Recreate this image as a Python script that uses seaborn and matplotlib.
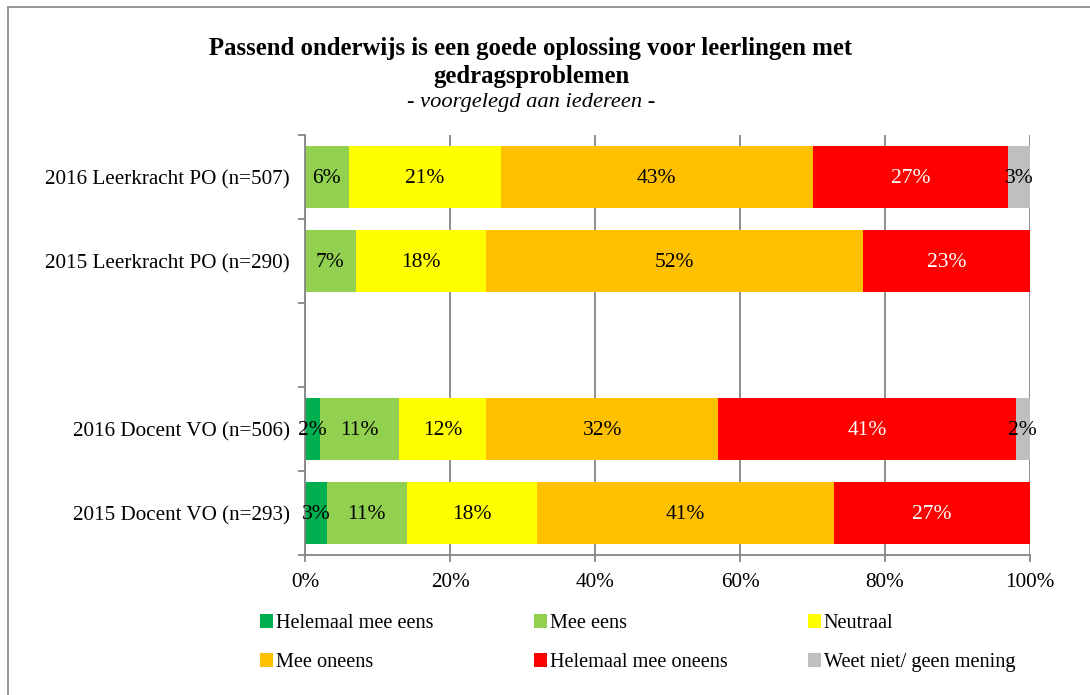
import matplotlib
matplotlib.use("Agg")
from matplotlib import pyplot as plt
from matplotlib.patches import Patch, Rectangle
from matplotlib.ticker import FixedLocator
import seaborn as sns
import pandas as pd

# chart data
groups = ["2016 Leerkracht PO (n=507)", "2015 Leerkracht PO (n=290)", " ",
          "2016 Docent VO (n=506)", "2015 Docent VO (n=293)"]
answers = ["Helemaal mee eens", "Mee eens", "Neutraal", "Mee oneens",
           "Helemaal mee oneens", "Weet niet/ geen mening"]
helemaal_eens = [0, 0, 0, 2, 3]
mee_eens = [6, 7, 0, 11, 11]
neutraal = [21, 18, 0, 12, 18]
mee_oneens = [43, 52, 0, 32, 41]
helemaal_oneens = [27, 23, 0, 41, 27]
weet_niet = [3, 0, 0, 2, 0]
x_ticks = [0, 20, 40, 60, 80, 100]

colors = ["#00B050", "#92D050", "#FFFF00", "#FFC000", "#FF0000", "#BFBFBF"]
label_colors = ["black", "black", "black", "black", "white", "black"]

sns.set_style("white")
plt.rcParams["font.family"] = ["Liberation Serif", "DejaVu Serif"]
plt.rcParams["text.color"] = "black"

series = [helemaal_eens, mee_eens, neutraal, mee_oneens, helemaal_oneens, weet_niet]
rows = []
for answer, vals in zip(answers, series):
    for g, v in zip(groups, vals):
        rows.append({"group": g, "answer": answer, "value": v})
df = pd.DataFrame(rows)
df["answer"] = pd.Categorical(df["answer"], categories=answers, ordered=True)
df = df.sort_values(["group", "answer"])
df["cum"] = df.groupby("group", sort=False)["value"].cumsum()

fig = plt.figure(figsize=(10.9, 6.95), dpi=100)
ax = fig.add_axes([305 / 1090, 1 - 555 / 695, 725 / 1090, 420 / 695])

# stacked bars: draw cumulative totals from the last answer backwards
for answer, color in reversed(list(zip(answers, colors))):
    sub = df[df["answer"] == answer]
    sns.barplot(data=sub, x="cum", y="group", order=groups, color=color,
                width=0.74, orient="h", errorbar=None, linewidth=0,
                saturation=1, ax=ax)

# percentage labels in the middle of each segment
for i, g in enumerate(groups):
    sub = df[df["group"] == g]
    for answer, lc in zip(answers, label_colors):
        r = sub[sub["answer"] == answer].iloc[0]
        if r["value"] > 0:
            ax.text(r["cum"] - r["value"] / 2, i + 0.02, f"{r['value']}%",
                    ha="center", va="center", fontsize=15.5, color=lc)

ax.set_xlim(0, 100)
ax.set_ylim(len(groups) - 0.5, -0.5)
ax.set_xticks(x_ticks)
ax.set_xticklabels([f"{t}%" for t in x_ticks], fontsize=15.3)
ax.set_xlabel("")
ax.set_ylabel("")
ax.tick_params(axis="y", which="major", length=0, pad=11, labelsize=15.2, labelcolor="black")
ax.yaxis.set_minor_locator(FixedLocator([i - 0.5 for i in range(len(groups) + 1)]))
ax.tick_params(axis="y", which="minor", length=5, width=1.3, color="#868686", direction="out", left=True)
ax.tick_params(axis="x", length=5, width=1.3, color="#868686", direction="out", bottom=True,
               pad=8, labelcolor="black")
ax.grid(axis="x", color="#868686", lw=1.3)
ax.grid(axis="y", visible=False)
ax.set_axisbelow(True)
for s in ["top", "right"]:
    ax.spines[s].set_visible(False)
for s in ["left", "bottom"]:
    ax.spines[s].set_color("#868686")
    ax.spines[s].set_linewidth(1.3)

# title
fig.text(531 / 1090, 1 - 48 / 695, "Passend onderwijs is een goede oplossing voor leerlingen met",
         ha="center", va="center", fontsize=17.8, fontweight="bold")
fig.text(531 / 1090, 1 - 76 / 695, "gedragsproblemen",
         ha="center", va="center", fontsize=17.8, fontweight="bold")
fig.text(531 / 1090, 1 - 103 / 695, "- voorgelegd aan iedereen -",
         ha="center", va="center", fontsize=16.2, style="italic")

# legend in three columns, filled row by row
handles = [Patch(facecolor=c, edgecolor="none") for c in colors]
col_x = [260, 534, 808]
for k, x in enumerate(col_x):
    fig.legend([handles[k], handles[k + 3]], [answers[k], answers[k + 3]],
               loc="upper left", bbox_to_anchor=(x / 1090, 1 - 614 / 695),
               frameon=False, fontsize=14.6, handlelength=0.65, handleheight=0.65,
               handletextpad=0.12, borderpad=0, borderaxespad=0, labelspacing=1.0)

# outer border
fig.add_artist(Rectangle((8 / 1090, -0.05), 1.1, 1.05 - 7 / 695, transform=fig.transFigure,
                         fill=False, edgecolor="#8c8c8c", lw=1.3))

fig.savefig("out.png", dpi=100)
